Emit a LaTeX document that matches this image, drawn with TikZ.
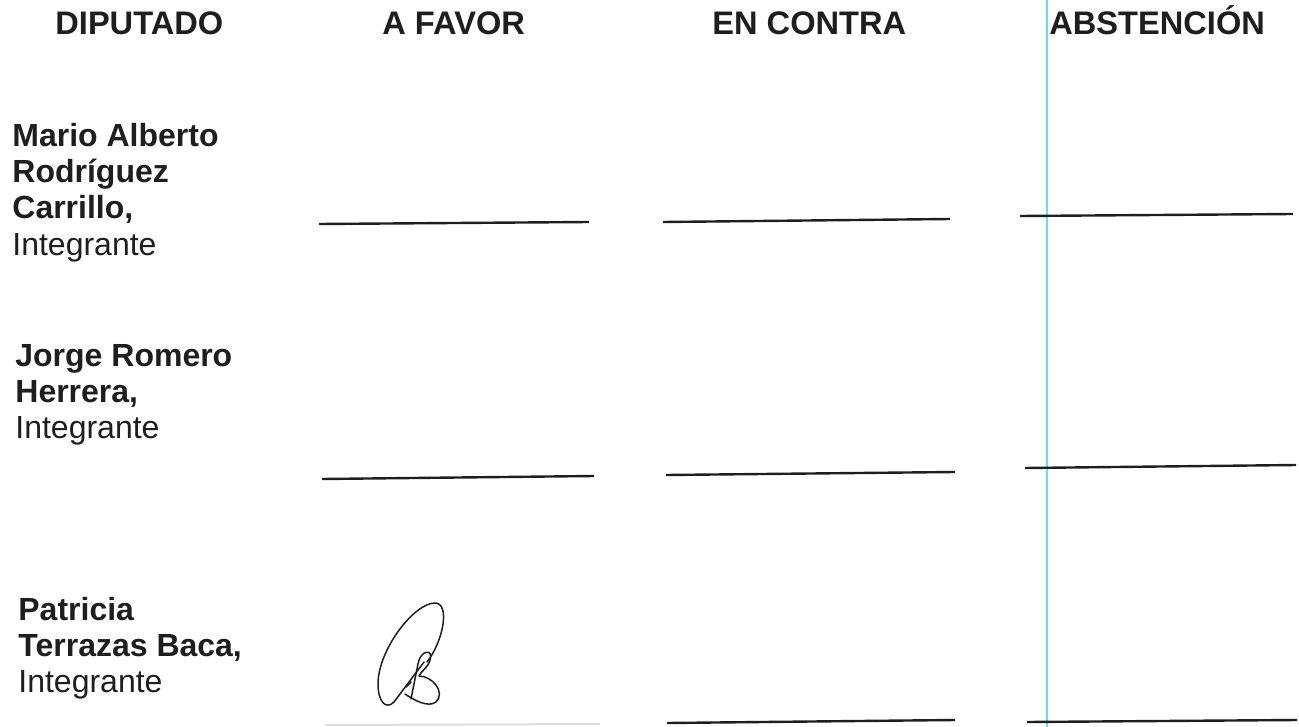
\documentclass[tikz,border=0pt]{standalone}
\usepackage{fontspec}
\setmainfont{Liberation Sans}
\usepackage{tikz}

\definecolor{ink}{HTML}{1E1E1E}
\definecolor{guide}{HTML}{6ADCEB}

\tikzset{
  head/.style={anchor=base west, inner sep=0pt, text=ink, font=\fontsize{16.3}{18}\selectfont\bfseries},
  member/.style={anchor=base west, inner sep=0pt, text=ink, align=left, font=\fontsize{16}{18}\selectfont},
  signline/.style={draw=ink, line width=1.2pt},
  pen/.style={ink, line width=0.75pt, line cap=round, line join=round},
}

\begin{document}
\begin{tikzpicture}[x=0.5pt, y=-0.5pt]
\useasboundingbox (0,0) rectangle (1299,727);
% guide line of the scan
\draw [guide, line width=1pt] (1047,0) -- (1047,727);
% headers
\node [head] (hdip) at (55,35) {DIPUTADO};
\node [head] (hfav) at (382,35) {A FAVOR};
\node [head] (hcon) at (712,35) {EN CONTRA};
\node [head] (habs) at (1049,35) {ABSTENCIÓN};
% members (base = last line)
\node [member] (mario) at (12,255) {\textbf{Mario Alberto}\\ \textbf{Rodríguez}\\ \textbf{Carrillo,}\\ Integrante};
\node [member] (jorge) at (15,438) {\textbf{Jorge Romero}\\ \textbf{Herrera,}\\ Integrante};
\node [member] (patricia) at (18,692) {\textbf{Patricia}\\ \textbf{Terrazas Baca,}\\ Integrante};
% signature lines
\draw [signline] (319,224) -- (589,222);
\draw [signline] (663,222) -- (950,219);
\draw [signline] (1020,216) -- (1293,214);
\draw [signline] (322,479) -- (594,476);
\draw [signline] (666,475) -- (955,472);
\draw [signline] (1025,468) -- (1296,465);
\draw [draw=ink!15, line width=1pt] (325,725) -- (600,724);
\draw [signline] (667,723) -- (955,720);
\draw [signline] (1027,722) -- (1297,720);
% signature
\draw [pen] (427,662) .. controls (444,640) and (450,603) .. (435,603)
  .. controls (414,603) and (378,650) .. (378,684)
  .. controls (378,702) and (386,710) .. (394,702) -- (424,662);
\draw [pen] (411,699) -- (418,664)
  .. controls (420,650) and (434,648) .. (430,660)
  .. controls (428,668) and (420,672) .. (419,676)
  .. controls (432,676) and (446,692) .. (436,702)
  .. controls (428,708) and (414,700) .. (405,694);
\draw [pen] (406,687) -- (411,682);
\end{tikzpicture}
\end{document}
